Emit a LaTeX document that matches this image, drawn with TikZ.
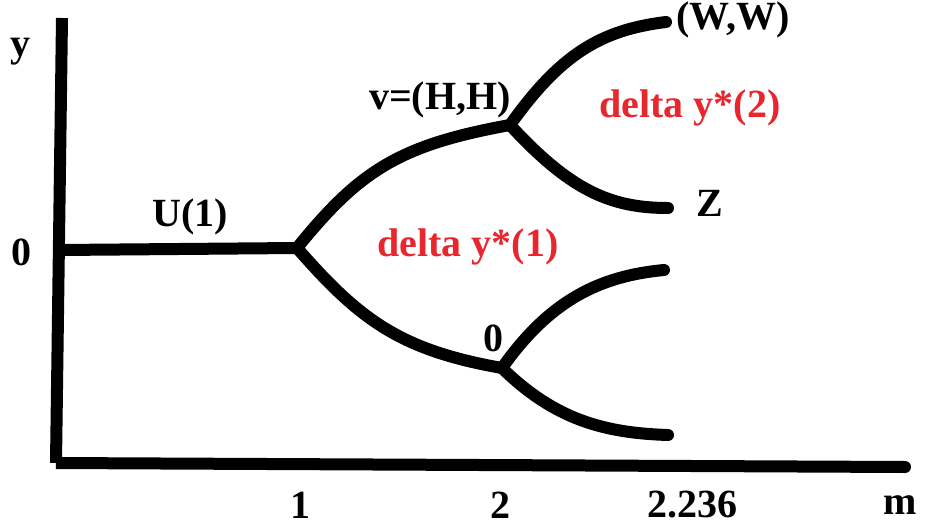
\documentclass[tikz,border=0pt]{standalone}
\usepackage{fontspec}
\setmainfont{Liberation Serif}
\usepackage{xcolor}
\usetikzlibrary{positioning}
\definecolor{lblred}{HTML}{E8262E}
\begin{document}
\begin{tikzpicture}[
    x=1pt, y=-1pt,
    br/.style={line width=12pt, line cap=round},
    lbl/.style={font=\fontsize{40}{44}\selectfont\bfseries, inner sep=0pt},
    rlbl/.style={lbl, text=lblred}
  ]
  \useasboundingbox (0,0) rectangle (925,527);
  % axes
  \coordinate (ytop) at (62,18);
  \coordinate (orig) at (56,463);
  \coordinate (xend) at (905,467);
  \draw[br, line cap=butt] (ytop) -- (orig);
  \draw[br, line cap=butt] (orig) -- (xend);
  \fill (xend) circle (6pt);
  % tree
  \coordinate (s) at (60,250);
  \coordinate (a) at (297,248);
  \coordinate (v) at (510,125);
  \coordinate (b) at (502,368);
  \coordinate (ww) at (666,22);
  \coordinate (z) at (668,208);
  \coordinate (bu) at (664,270);
  \coordinate (bd) at (668,435);
  \draw[br] (s) -- (a);
  \draw[br] (a) .. controls (360,170) and (400,145) .. (v);
  \draw[br] (a) .. controls (360,320) and (400,350) .. (b);
  \draw[br] (v) .. controls (560,55) and (600,30) .. (ww);
  \draw[br] (v) .. controls (570,190) and (610,208) .. (z);
  \draw[br] (b) .. controls (550,300) and (600,276) .. (bu);
  \draw[br] (b) .. controls (555,420) and (605,433) .. (bd);
  % labels
  \node[lbl] (ylab) at (20,52) {y};
  \node[lbl] (zero) at (22,252) {0};
  \node[lbl] (ulab) at (190,217) {U(1)};
  \node[lbl] (vlab) at (440,100) {v=(H,H)};
  \node[lbl] (wlab) at (733,20) {(W,W)};
  \node[lbl] (zlab) at (710,203) {Z};
  \node[lbl] (blab) at (493,338) {0};
  \node[rlbl] (d2) at (690,108) {delta y*(2)};
  \node[rlbl] (d1) at (468,247) {delta y*(1)};
  \node[lbl] (m1) at (300,505) {1};
  \node[lbl] (m2) at (500,505) {2};
  \node[lbl] (m3) at (692,505) {2.236};
  \node[lbl] (mlab) at (900,505) {m};
\end{tikzpicture}
\end{document}
